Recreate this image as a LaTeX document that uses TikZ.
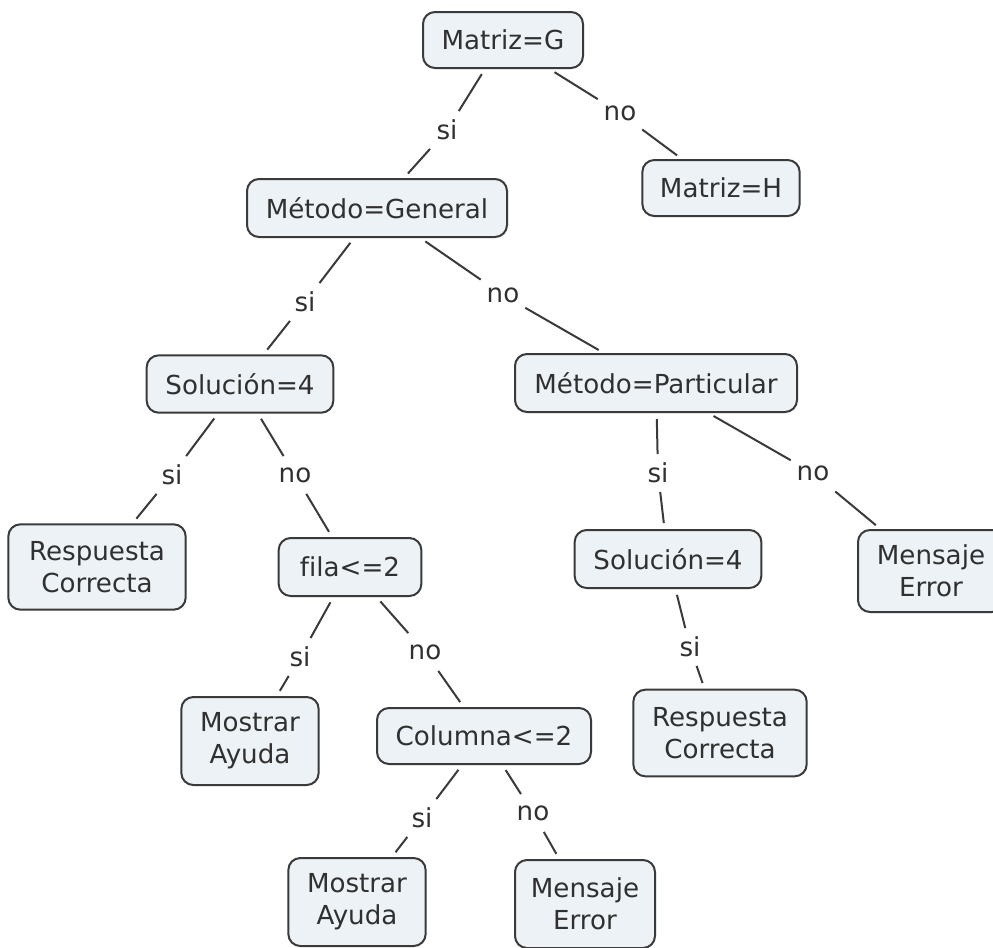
\documentclass[tikz,border=0pt]{standalone}
\usepackage{fontspec}
\setmainfont{DejaVu Sans}[Ligatures=NoCommon]
\definecolor{boxfill}{RGB}{236,242,246}
\definecolor{boxline}{RGB}{58,58,58}
\definecolor{ink}{RGB}{48,48,48}
\begin{document}
\begin{tikzpicture}[x=0.75pt, y=-0.75pt,
  every node/.style={font=\fontsize{19.6}{24}\selectfont, text=ink},
  concept/.style={draw=boxline, line width=1.5pt, fill=boxfill,
    rounded corners=9pt, align=center, inner sep=0pt},
  answer/.style={minimum width=33pt, minimum height=28pt, inner sep=0pt},
  link/.style={draw=boxline, line width=1.5pt},
  frombox/.style={link, shorten <=4.5pt},
  tobox/.style={link, shorten >=4.5pt}]
\useasboundingbox (0,0) rectangle (993,947);
\fill[white] (0,0) rectangle (993,947);

% concepts
\node[concept, minimum width=120pt, minimum height=42pt] (mG) at (503,40) {Matriz=G};
\node[concept, minimum width=118pt, minimum height=42pt] (mH) at (721,188) {Matriz=H};
\node[concept, minimum width=195pt, minimum height=43.5pt] (mGen) at (377,208) {Método=General};
\node[concept, minimum width=140pt, minimum height=43pt] (sol1) at (240,384) {Solución=4};
\node[concept, minimum width=211.5pt, minimum height=43.5pt] (mPar) at (656,383) {Método=Particular};
\node[concept, minimum width=133pt, minimum height=64pt] (rc1) at (97,567) {Respuesta\\Correcta};
\node[concept, minimum width=107pt, minimum height=43.5pt] (fila) at (350,567) {f\kern0pt ila<=2};
\node[concept, minimum width=140pt, minimum height=43.5pt] (sol2) at (668,559) {Solución=4};
\node[concept, minimum width=109.5pt, minimum height=61.5pt] (me1) at (931,571) {Mensaje\\Error};
\node[concept, minimum width=103pt, minimum height=66pt] (ma1) at (250,741) {Mostrar\\Ayuda};
\node[concept, minimum width=160.5pt, minimum height=42pt] (col) at (484,736) {Columna<=2};
\node[concept, minimum width=130pt, minimum height=65pt] (rc2) at (720,733) {Respuesta\\Correcta};
\node[concept, minimum width=103pt, minimum height=66pt] (ma2) at (357,902) {Mostrar\\Ayuda};
\node[concept, minimum width=105pt, minimum height=66pt] (me2) at (585,904) {Mensaje\\Error};

% branch answers
\node[answer] (a1) at (447,130) {si};
\node[answer] (a2) at (620,113) {no};
\node[answer] (a3) at (305,302) {si};
\node[answer] (a4) at (503,295) {no};
\node[answer] (a5) at (172,475) {si};
\node[answer] (a6) at (295,475) {no};
\node[answer] (a7) at (658,473) {si};
\node[answer] (a8) at (813,473) {no};
\node[answer] (a9) at (300,657) {si};
\node[answer] (a10) at (425,652) {no};
\node[answer] (a11) at (690,647) {si};
\node[answer] (a12) at (422,818) {si};
\node[answer] (a13) at (533,813) {no};

% connectors
\draw[frombox] (mG) -- (a1);   \draw[tobox] (a1) -- (mGen);
\draw[frombox] (mG) -- (a2);   \draw[tobox] (a2) -- (mH);
\draw[frombox] (mGen) -- (a3); \draw[tobox] (a3) -- (sol1);
\draw[frombox] (mGen) -- (a4); \draw[tobox] (a4) -- (mPar);
\draw[frombox] (sol1) -- (a5); \draw[tobox] (a5) -- (rc1);
\draw[frombox] (sol1) -- (a6); \draw[tobox] (a6) -- (fila);
\draw[frombox] (mPar) -- (a7); \draw[tobox] (a7) -- (sol2);
\draw[frombox] (mPar) -- (a8); \draw[tobox] (a8) -- (me1);
\draw[frombox] (fila) -- (a9); \draw[tobox] (a9) -- (ma1);
\draw[frombox] (fila) -- (a10); \draw[tobox] (a10) -- (col);
\draw[frombox] (sol2) -- (a11); \draw[tobox] (a11) -- (rc2);
\draw[frombox] (col) -- (a12); \draw[tobox] (a12) -- (ma2);
\draw[frombox] (col) -- (a13); \draw[tobox] (a13) -- (me2);
\end{tikzpicture}
\end{document}
